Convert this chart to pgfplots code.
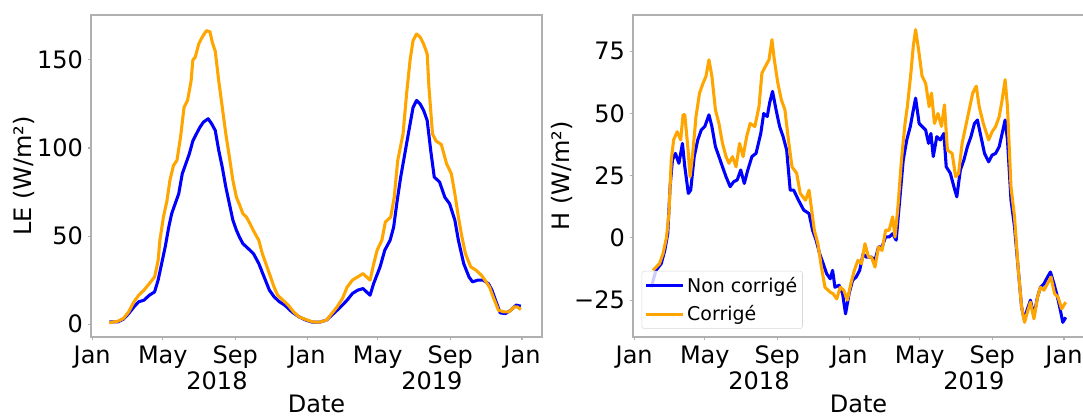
\documentclass[border=0pt]{standalone}
\usepackage{pgfplots}
\pgfplotsset{compat=1.18}
\usepackage{fontspec}
\setmainfont{DejaVu Sans}

\definecolor{mplblue}{RGB}{0,0,255}
\definecolor{mplorange}{RGB}{255,165,0}
\definecolor{framegray}{RGB}{176,176,176}

% x = days since 1 Jan 2018
\pgfplotsset{
  panel/.style={
    scale only axis, width=338.25pt, height=241.5pt,
    anchor=south west,
    xmin=-2, xmax=764,
    xtick={0,120,243,365,485,608,730},
    xticklabels={Jan,May,Sep,Jan,May,Sep,Jan},
    extra x ticks={212,577},
    extra x tick labels={2018,2019},
    extra x tick style={major tick length=0pt, xticklabel style={yshift=-22pt}},
    axis line style={framegray, line width=1pt},
    tick style={framegray, line width=0.8pt},
    tick align=outside, major tick length=2.6pt,
    xtick pos=lower, ytick pos=left,
    xticklabel style={anchor=base, yshift=-17.4pt},
    ticklabel style={font=\fontsize{18}{21}\selectfont},
    label style={font=\fontsize{18}{21}\selectfont},
    xlabel=Date,
    xlabel style={at={(axis description cs:0.5,0)}, anchor=base, yshift=-56.4pt, inner sep=0pt},
    every axis plot/.append style={line width=2.3pt, line join=round},
  }
}

\begin{document}
\begin{tikzpicture}
\path[use as bounding box] (0pt,0pt) rectangle (812.25pt,-312pt);

% LE
\begin{axis}[panel, at={(68.25pt,-252.75pt)},
  ymin=-7.3, ymax=175.5,
  ytick={0,50,100,150},
  yticklabels={0,50,100,150},
  ylabel={LE (W/m²)},
  ylabel style={at={(axis description cs:-0.1486,0.5)}, anchor=center},
]
\addplot[mplblue] coordinates {
(29,1.3) (44,1.3) (53,2.8) (62,6) (71,9.8) (79,12.7) (88,13.6) (97,16.4) (106,18.3)
(112,25) (118,34.4) (124,43.8) (130,55) (135,62.7) (141,68.4) (147,74) (153,85.4)
(159,91) (165,96.7) (171,104) (177,108) (183,111.8) (189,114.7) (197,116.6) (203,113.7)
(209,110) (215,98.6) (221,89) (227,77.8) (233,68.4) (239,59) (245,53.3) (250,49.5)
(256,45.7) (265,42.9) (274,40) (283,34.4) (292,26.8) (301,19.3) (309,15.5) (318,12.7)
(327,10.8) (339,7) (351,4.2) (363,2.3) (374,1.1) (386,1.1) (398,2.3) (407,5.1)
(416,7.9) (425,10.8) (433,13.6) (442,17.4) (451,19.3) (460,20.2) (466,18.3) (472,16.4)
(478,23) (489,32.5) (497,42) (506,47.6) (512,55) (518,70) (524,83.5) (530,94.8)
(534,102.4) (540,113.7) (545,123) (551,127) (557,125) (563,121.3) (569,115.6) (575,98.6)
(581,83.5) (590,80.7) (599,72) (607,68.4) (616,59) (622,47.6) (631,34.4) (640,26.8)
(646,24) (655,25) (664,25) (673,23) (679,19.3) (685,13.6) (693,6.4) (702,6)
(711,7.9) (720,10.8) (728,10.2)
};
\addplot[mplorange] coordinates {
(29,0.8) (44,1.7) (53,3.2) (62,7) (71,12.7) (79,16.4) (88,19.3) (97,23) (106,26.8)
(112,36) (115,47.6) (121,60.8) (127,70) (132,81.6) (138,90) (144,93) (150,106)
(156,123) (162,127) (168,138) (171,150) (175,151.5) (181,159) (187,163) (194,166.6)
(200,166) (204,160) (209,155) (215,138) (221,123) (227,108) (233,95) (239,81.6)
(245,72) (250,68) (256,62.7) (262,60.8) (268,57) (274,53) (283,47.6) (289,40)
(295,34.4) (301,28.7) (309,21) (315,16.4) (324,13.6) (333,10.8) (342,7) (351,4.2)
(363,2.6) (374,1.3) (386,1.1) (398,2.3) (407,6) (416,9.8) (425,14.5) (433,21)
(442,25) (451,26.8) (460,28.7) (466,26.8) (472,25) (478,34) (484,42) (492,47.6)
(498,58) (507,60.8) (513,72) (519,93) (528,108) (534,130.7) (540,150) (545,161)
(551,164.7) (557,163) (563,159) (569,153.4) (572,134.5) (578,108) (584,104) (593,102)
(602,91) (610,85.4) (616,74) (622,60.8) (628,49.5) (634,40) (643,32.5) (652,30.6)
(661,27.8) (667,25) (675,21) (681,15.5) (690,7.9) (699,7) (708,7) (717,9.8)
(722,9.8) (728,8.3)
};
\end{axis}

% H
\begin{axis}[panel, at={(474.75pt,-252.75pt)},
  ymin=-39.8, ymax=89.6,
  ytick={-25,0,25,50,75},
  yticklabels={−25,0,25,50,75},
  ylabel={H (W/m²)},
  ylabel style={at={(axis description cs:-0.157,0.5)}, anchor=center},
  legend style={at={(0.019,0.025)}, anchor=south west, draw=gray!30,
    rounded corners=2pt, fill=white, fill opacity=0.8, text opacity=1,
    font=\fontsize{14.2}{16.5}\selectfont, inner xsep=2pt, inner ysep=2.5pt,
    row sep=4.5pt, nodes={inner sep=2pt}},
  legend cell align=left,
  legend image code/.code={\draw[#1] (0pt,0pt) -- (27.75pt,0pt);},
]
\addplot[mplblue] coordinates {
(29,-19.8) (37,-13) (46,-10.3) (52,-5) (57,1.7) (61,20.6) (65,31.3) (70,34) (76,30)
(82,38) (86,28.6) (92,17.9) (96,19.2) (102,32.7) (108,39.4) (114,43.4) (120,44.8)
(127,49.5) (132,44.8) (138,36.7) (144,32.7) (150,28.6) (156,24.6) (163,20.6) (169,22.6)
(175,23.3) (181,27.3) (187,21.9) (193,27.3) (200,32.7) (207,34) (215,42) (220,50)
(226,48.8) (230,54.2) (235,58.9) (241,51.5) (247,44.8) (253,40.7) (259,35.3) (265,19.2)
(271,19.2) (279,15.2) (288,11.2) (297,9.8) (303,3.1) (309,-0.9) (315,-6.3) (321,-10.3)
(327,-14.4) (333,-16.4) (337,-13) (341,-19.8) (348,-19) (354,-22.4) (359,-30.5) (365,-22.4)
(371,-17) (377,-15.7) (383,-13) (389,-6.3) (394,-7.7) (403,-7.7) (409,-9) (415,-3.6)
(421,-3.6) (427,0.4) (433,0.4) (439,1.7) (445,-0.9) (451,15.2) (457,31.3) (463,39.4)
(469,44.8) (473,50) (478,56.2) (484,46) (489,44.8) (495,43.4) (500,38) (504,42)
(508,32.7) (514,40.7) (520,39.4) (526,42) (530,28.6) (537,26) (543,20.6) (548,16.5)
(554,27.3) (560,31.3) (566,36.7) (572,40.7) (578,46) (583,47.4) (589,40.7) (595,34)
(602,30.6) (608,33.3) (614,34) (620,36.7) (625,42) (630,47.4) (634,39.4) (640,15.2)
(646,4.4) (652,-11.7) (658,-27.8) (663,-33.2) (667,-29.2) (673,-25) (679,-31.2) (685,-23.8)
(690,-19.8) (696,-18.4) (702,-15.7) (707,-13.7) (713,-18.4) (719,-23.8) (724,-29.2) (728,-33.9)
(733,-31.9)
};
\addlegendentry{Non corrigé}
\addplot[mplorange] coordinates {
(32,-13) (43,-10.3) (49,-6.3) (55,0.4) (59,9.8) (63,31.3) (67,39.4) (73,42.7) (79,39.4)
(83,49.5) (86,49.5) (91,36.7) (95,24.6) (99,32.7) (105,48.8) (111,58.2) (117,62.2)
(122,65) (127,71.6) (132,65) (138,51.5) (144,46) (150,38) (156,32.7) (161,30)
(167,32.7) (173,28.6) (179,38) (185,32.7) (191,40.7) (197,46) (205,44.8) (212,52.8)
(217,66.3) (223,69) (229,71.6) (234,79.7) (238,71.6) (244,62.2) (250,55.5) (256,51.5)
(262,39.4) (268,28.6) (276,26) (282,17.9) (291,15.2) (297,19.2) (300,13.8) (306,3.1)
(312,-2.3) (318,-11.7) (324,-19.8) (333,-21.8) (338,-22.4) (344,-24.5) (350,-19.8) (356,-21)
(362,-25) (368,-18.4) (374,-13) (380,-9) (386,-10.3) (392,-2.3) (398,-7.7) (403,-7.7)
(409,-11.7) (415,-3.6) (421,-5) (427,3.1) (433,3.1) (439,8.5) (443,0.4) (448,12.5)
(454,31.3) (460,46) (464,52.8) (470,66.3) (474,77) (478,83.7) (483,75.7) (489,65)
(495,62.2) (501,52.8) (505,58.2) (510,46) (516,50) (522,44.8) (527,53.5) (532,35.3)
(540,34) (546,24.6) (551,26) (557,38) (563,44.8) (569,51.5) (575,58.2) (581,61)
(586,52.8) (593,46) (602,39.4) (608,42.7) (614,44.8) (620,48.8) (625,55.5) (630,63.6)
(634,52.8) (640,20.6) (646,8.5) (652,-11.7) (658,-27.8) (663,-33.9) (667,-30.5) (673,-25.8)
(679,-32.5) (685,-23.8) (690,-19.8) (696,-21) (702,-18.4) (708,-15.7) (714,-22.4) (720,-23.8)
(726,-28.5) (733,-25.8)
};
\addlegendentry{Corrigé}
\end{axis}
\end{tikzpicture}
\end{document}
